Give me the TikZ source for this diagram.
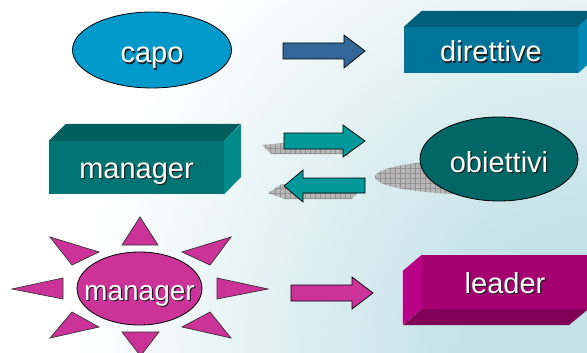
\documentclass[tikz,border=0pt]{standalone}
\usepackage{fontspec}
\setmainfont{Liberation Sans}
\usetikzlibrary{shapes.geometric,patterns.meta}
\definecolor{bgteal}{RGB}{195,226,231}
\definecolor{capoblue}{RGB}{0,153,204}
\definecolor{arrblue}{RGB}{51,102,153}
\definecolor{dirfront}{RGB}{0,116,153}
\definecolor{dirtop}{RGB}{0,94,122}
\definecolor{dirside}{RGB}{0,136,178}
\definecolor{mgrfront}{RGB}{0,115,115}
\definecolor{mgrtop}{RGB}{0,94,94}
\definecolor{mgrside}{RGB}{0,138,138}
\definecolor{arrteal}{RGB}{0,153,153}
\definecolor{objteal}{RGB}{0,102,102}
\definecolor{pink}{RGB}{204,51,153}
\definecolor{leadfront}{RGB}{165,0,112}
\definecolor{leadleft}{RGB}{187,0,136}
\definecolor{leadbottom}{RGB}{128,0,88}
\definecolor{shgray}{RGB}{184,184,184}
\definecolor{shgrid}{RGB}{145,145,145}
\definecolor{txtshadow}{RGB}{30,30,30}
\pgfdeclareradialshading{bgshade}{\pgfpoint{0bp}{0bp}}{color(0bp)=(bgteal); color(5bp)=(bgteal); color(20.5bp)=(white); color(50bp)=(white)}
\newcommand\shtext[1]{\leavevmode\rlap{\kern1.2pt\raisebox{-1.2pt}{\color{txtshadow}#1}}{\color{white}#1}}
\begin{document}
\begin{tikzpicture}[x=1pt,y=-1pt,
  lbl/.style={font=\fontsize{29}{31}\selectfont, text depth=0pt},
  ell/.style={ellipse, draw=black, line width=0.8pt, inner sep=0pt, lbl},
  boxface/.style={rectangle, inner sep=0pt, lbl},
  blockarrow/.style={draw=black, line width=0.7pt, line join=miter},
  ray/.style={fill=pink, draw=black!80, line width=0.7pt, line join=miter},
  shadowfill/.style={preaction={fill=shgray}, pattern={Hatch[distance=5pt, angle=0, line width=0.5pt]}, pattern color=shgrid}
]
\useasboundingbox (0,0) rectangle (587,353);
\clip (0,0) rectangle (587,353);
\shade[shading=bgshade] (587,353) circle [radius=620pt];

% row 1
\node[ell, fill=capoblue, minimum width=159pt, minimum height=76pt, text height=26pt] (capo) at (152,50) {\shtext{capo}};
\draw[blockarrow, fill=arrblue] (283,43) -- (344,43) -- (344,35) -- (365,51) -- (344,68) -- (344,59) -- (283,59) -- cycle;
\node[boxface, fill=dirfront, minimum width=174pt, minimum height=46pt, text height=24pt] (dir) at (491,50) {\shtext{direttive}};
\fill[dirtop] (dir.north west) -- ++(18,-16) -- ++(174,0) -- (dir.north east) -- cycle;
\fill[dirside] (dir.north east) -- ++(18,-16) -- ++(0,46) -- (dir.south east) -- cycle;

% row 2
\node[boxface, fill=mgrfront, minimum width=175pt, minimum height=53pt, text height=21pt] (mgr) at (136.5,167.5) {\shtext{manager}};
\fill[mgrtop] (mgr.north west) -- ++(17,-17) -- ++(175,0) -- (mgr.north east) -- cycle;
\fill[mgrside] (mgr.north east) -- ++(17,-17) -- ++(0,53) -- (mgr.south east) -- cycle;

\path[shadowfill] (262,145) -- (286,143) -- (343,143) -- (349,157) -- (343,154) -- (271,154) -- cycle;
\draw[blockarrow, fill=arrteal] (284,133) -- (343,133) -- (343,125) -- (365,141) -- (343,157) -- (343,149) -- (284,149) -- cycle;
\path[shadowfill] (268,193) -- (282,184) -- (340,184) -- (357,193) -- (352,199) -- (285,199) -- cycle;
\draw[blockarrow, fill=arrteal] (365,178) -- (303,178) -- (303,170) -- (284,186) -- (303,202) -- (303,193) -- (365,193) -- cycle;

\path[shadowfill] (472,177) ellipse [x radius=97pt, y radius=17pt];
\node[ell, fill=objteal, minimum width=158pt, minimum height=84pt, text height=26pt] (obj) at (499,159) {\shtext{obiettivi}};

% row 3
\draw[ray] (140,217) -- (122,245) -- (158,245) -- cycle;
\draw[ray] (122,332) -- (159,332) -- (140.5,356) -- cycle;
\draw[ray] (12,289) -- (63,278) -- (63,299) -- cycle;
\draw[ray] (268,289) -- (217,278) -- (217,299) -- cycle;
\draw[ray] (50,237) -- (99,252) -- (72,265) -- cycle;
\draw[ray] (231,237) -- (182,252) -- (210,265) -- cycle;
\draw[ray] (50,338) -- (72,312) -- (99,327) -- cycle;
\draw[ray] (231,338) -- (210,312) -- (182,327) -- cycle;
\node[ell, fill=pink, minimum width=125pt, minimum height=73pt, text height=23pt, font=\fontsize{28}{30}\selectfont] (sun) at (139.5,288.5) {\makebox[0pt]{\shtext{manager}}};

\draw[blockarrow, fill=pink] (291,285) -- (352,285) -- (352,277) -- (373,293) -- (352,309) -- (352,301) -- (291,301) -- cycle;
\node[boxface, fill=leadfront, minimum width=166pt, minimum height=54pt, text height=22pt] (lead) at (505,282) {\shtext{leader}};
\fill[leadleft] (lead.north west) -- ++(-19,16) -- ++(0,54) -- (lead.south west) -- cycle;
\fill[leadbottom] (lead.south west) -- ++(-19,16) -- ++(166,0) -- (lead.south east) -- cycle;
\end{tikzpicture}
\end{document}
